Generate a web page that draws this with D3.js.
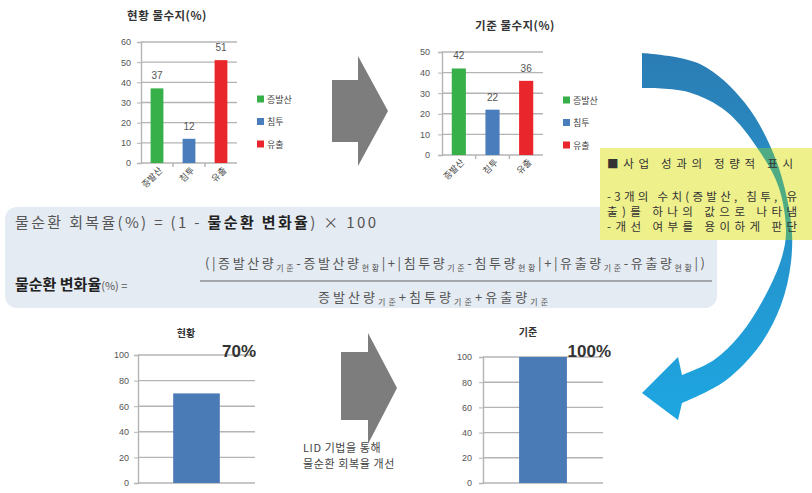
<!DOCTYPE html>
<html><head><meta charset="utf-8">
<script src="https://cdn.jsdelivr.net/npm/d3@7"></script>
<style>
html,body{margin:0;padding:0;background:#fff;}
svg{display:block;font-family:"Noto Sans CJK KR","Noto Sans",sans-serif;}
</style></head>
<body>
<svg id="c" width="812" height="493"></svg>
<script>
// ---------- data ----------
const categories = ["증발산", "침투", "유출"];
const currentValues = [37, 12, 51];
const baseValues = [42, 22, 36];
const seriesColors = ["#38b04a", "#4a7dbc", "#e8262b"];
const ticksTop1 = [0, 10, 20, 30, 40, 50, 60];
const ticksTop2 = [0, 10, 20, 30, 40, 50];
const recoveryCats = ["현황", "기준"];
const recoveryValues = [70, 100];
const recoveryLabels = ["70%", "100%"];
const ticksBottom = [0, 20, 40, 60, 80, 100];
const titles = ["현황 물수지(%)", "기준 물수지(%)"];
const boxLines = ["■사업 성과의 정량적 표시", "-3개의 수치(증발산, 침투, 유", "출)를 하나의 값으로 나타냄", "-개선 여부를 용이하게 판단"];
const arrowNote = ["LID 기법을 통해", "물순환 회복율 개선"];

const svg = d3.select("#c");
svg.append("rect").attr("width", 812).attr("height", 493).attr("fill", "#fff");
const defs = svg.append("defs");

// ---------- formula box (background) ----------
svg.append("rect").attr("x", 5).attr("y", 207).attr("width", 712).attr("height", 101)
  .attr("rx", 12).attr("fill", "#e5ebf2");

// ---------- bar chart helper ----------
function barChart(o) {
  const g = svg.append("g");
  const y = d3.scaleLinear().domain(o.domain).range([o.y0, o.y1]);
  const x = d3.scaleBand().domain(o.cats).range([o.x0, o.x1]).paddingInner(o.pad).paddingOuter(o.padOuter ?? o.pad / 2);
  g.append("g").selectAll("line").data(o.ticks).join("line")
    .attr("x1", o.x0).attr("x2", o.x1)
    .attr("y1", d => y(d)).attr("y2", d => y(d))
    .attr("stroke", "#b4b4b4").attr("stroke-width", 1.4);
  const ya = g.append("g").attr("transform", `translate(${o.x0},0)`)
    .call(d3.axisLeft(y).tickValues(o.ticks).tickSize(4).tickPadding(o.tickPad));
  ya.select(".domain").attr("stroke", "#b4b4b4").attr("stroke-width", 1.4);
  ya.selectAll(".tick line").attr("stroke", "#b4b4b4");
  ya.selectAll("text").attr("font-size", 9).attr("fill", "#555").attr("font-family", "Liberation Sans, Arial, sans-serif");
  g.append("g").selectAll("rect").data(o.values).join("rect")
    .attr("x", (d, i) => x(o.cats[i])).attr("width", x.bandwidth())
    .attr("y", d => y(d)).attr("height", d => y(0) - y(d))
    .attr("fill", (d, i) => o.colors[i % o.colors.length]);
  if (o.catTicks) {
    const step = x.step();
    const bounds = o.cats.slice(1).map((c) => x(c) - (step - x.bandwidth()) / 2);
    g.append("g").selectAll("line").data(bounds).join("line")
      .attr("x1", d => d).attr("x2", d => d).attr("y1", y(0)).attr("y2", y(0) + 4)
      .attr("stroke", "#b4b4b4").attr("stroke-width", 1.4);
  }
  if (o.showValues) {
    g.append("g").selectAll("text").data(o.values).join("text")
      .attr("x", (d, i) => x(o.cats[i]) + x.bandwidth() / 2).attr("y", d => y(d) - 9)
      .attr("text-anchor", "middle").attr("font-size", 10).attr("fill", "#555")
      .attr("font-family", "Liberation Sans, Arial, sans-serif")
      .text(d => d);
  }
  if (o.rotLabels) {
    g.append("g").selectAll("text").data(o.cats).join("text")
      .attr("transform", c => `translate(${x(c) + x.bandwidth() / 2 + 6},${y(0) + 8}) rotate(-45)`)
      .attr("text-anchor", "end").attr("font-size", 9).attr("fill", "#444").text(c => c);
  }
  if (o.legend) {
    const lg = g.append("g").selectAll("g").data(o.cats).join("g")
      .attr("transform", (c, i) => `translate(${o.legend[0]},${o.legend[1] + i * 22.5})`);
    lg.append("rect").attr("x", 0).attr("y", -3.5).attr("width", 7).attr("height", 7)
      .attr("fill", (c, i) => o.colors[i]);
    lg.append("text").attr("x", 10).attr("y", 3.5).attr("font-size", 9).attr("fill", "#444").text(c => c);
  }
  return { x, y };
}

// top charts
svg.append("text").attr("x", 167).attr("y", 20).attr("text-anchor", "middle")
  .attr("font-size", 11.5).attr("font-weight", "bold").attr("fill", "#333").attr("letter-spacing", 0.5).text(titles[0]);
barChart({ x0: 141, x1: 237, y0: 163, y1: 42, domain: [0, 60], ticks: ticksTop1, cats: categories,
  values: currentValues, colors: seriesColors, pad: 0.6, tickPad: 6, showValues: true, rotLabels: true,
  catTicks: true, legend: [257, 99] });

svg.append("text").attr("x", 515).attr("y", 30).attr("text-anchor", "middle")
  .attr("font-size", 11.5).attr("font-weight", "bold").attr("fill", "#333").attr("letter-spacing", 0.5).text(titles[1]);
barChart({ x0: 442, x1: 543, y0: 155, y1: 52, domain: [0, 50], ticks: ticksTop2, cats: categories,
  values: baseValues, colors: seriesColors, pad: 0.58, tickPad: 8, showValues: true, rotLabels: true,
  catTicks: true, legend: [563, 100] });

// bottom charts
const bottomCfg = [
  { x0: 138, x1: 255, y0: 483, y1: 355, title: [186, 337], lab: [256, 357], tickPad: 5 },
  { x0: 483, x1: 603, y0: 483, y1: 357, title: [528, 336], lab: [611, 357], tickPad: 7 }
];
recoveryCats.forEach((c, i) => {
  const b = bottomCfg[i];
  svg.append("text").attr("x", b.title[0]).attr("y", b.title[1]).attr("text-anchor", "middle")
    .attr("font-size", 10).attr("font-weight", "bold").attr("fill", "#333").text(c);
  barChart({ x0: b.x0, x1: b.x1, y0: b.y0, y1: b.y1, domain: [0, 100], ticks: ticksBottom, cats: [c],
    values: [recoveryValues[i]], colors: ["#4a7bb7"], pad: 0.43, padOuter: 0.43, tickPad: b.tickPad });
  svg.append("text").attr("x", b.lab[0]).attr("y", b.lab[1]).attr("text-anchor", "end")
    .attr("font-size", 17).attr("font-weight", "bold").attr("fill", "#333")
    .attr("font-family", "Liberation Sans, Arial, sans-serif").text(recoveryLabels[i]);
});

// ---------- gray block arrows ----------
function blockArrow(bx0, bx1, by0, by1, hy0, hy1, tx, ty) {
  svg.append("path").attr("fill", "#7d7d7d")
    .attr("d", `M${bx0},${by0}L${bx1},${by0}L${bx1},${hy0}L${tx},${ty}L${bx1},${hy1}L${bx1},${by1}L${bx0},${by1}Z`);
}
blockArrow(332, 358, 80, 142, 56, 166, 388, 111);
blockArrow(341, 368, 352, 420, 333, 444, 397, 388);

arrowNote.forEach((t, i) => {
  svg.append("text").attr("x", 303).attr("y", 452 + i * 15.5).attr("font-size", 11)
    .attr("fill", "#444").attr("letter-spacing", 0.6).text(t);
});

// ---------- formula text ----------
const f1 = svg.append("text").attr("x", 15).attr("y", 228).attr("font-size", 15).attr("fill", "#555")
  .attr("textLength", 361).attr("lengthAdjust", "spacing");
f1.append("tspan").text("물순환 회복율(%) = (1 - ");
f1.append("tspan").attr("font-weight", "bold").attr("fill", "#222").text("물순환 변화율");
f1.append("tspan").text(") × 100");

const f2 = svg.append("text").attr("x", 15).attr("y", 290).attr("fill", "#222");
f2.append("tspan").attr("font-size", 15).attr("font-weight", "bold").text("물순환 변화율");
f2.append("tspan").attr("font-size", 11).attr("fill", "#555").text("(%) =");

function formula(x, y, len, parts) {
  const t = svg.append("text").attr("x", x).attr("y", y).attr("font-size", 13).attr("fill", "#555")
    .attr("textLength", len).attr("lengthAdjust", "spacing");
  let pending = 0;
  parts.forEach(p => {
    if (Array.isArray(p)) {
      t.append("tspan").attr("dy", pending).text(p[0]);
      t.append("tspan").attr("font-size", 8).attr("dy", 3).text(p[1]);
      pending = -3;
    } else {
      t.append("tspan").attr("dy", pending).text(p);
      pending = 0;
    }
  });
}
formula(205, 268, 500, ["(|", ["증발산량", "기준"], "-", ["증발산량", "현황"], "|+|", ["침투량", "기준"], "-",
  ["침투량", "현황"], "|+|", ["유출량", "기준"], "-", ["유출량", "현황"], "|)"]);
svg.append("line").attr("x1", 200).attr("x2", 712).attr("y1", 281).attr("y2", 281)
  .attr("stroke", "#a3a7ab").attr("stroke-width", 2);
formula(318, 302, 230, [["증발산량", "기준"], "+", ["침투량", "기준"], "+", ["유출량", "기준"]]);

// ---------- curved arrow ----------
const grad = defs.append("linearGradient").attr("id", "cg").attr("gradientUnits", "userSpaceOnUse")
  .attr("x1", 0).attr("y1", 53).attr("x2", 0).attr("y2", 400);
grad.append("stop").attr("offset", 0).attr("stop-color", "#2a7db4");
grad.append("stop").attr("offset", 0.45).attr("stop-color", "#2790c8");
grad.append("stop").attr("offset", 1).attr("stop-color", "#1ea4df");

const outer = [[642, 53], [700, 64], [745, 103], [776, 160], [791, 222], [791, 262], [781, 305], [760, 345], [725, 381], [682, 403]];
const inner = [[682, 375], [714, 360], [740, 335], [763, 300], [781, 260], [786, 232], [779, 188], [760, 152], [727, 112], [688, 92], [642, 88]];
const lineGen = d3.line().curve(d3.curveCatmullRom.alpha(0.5));
const dOuter = lineGen(outer);
const dInner = lineGen(inner);
const arrowD = dOuter + `L678,420L642,393L678,357` + dInner.replace(/^M/, "L") + "Z";
svg.append("path").attr("d", arrowD).attr("fill", "url(#cg)");

// ---------- yellow note box ----------
svg.append("rect").attr("x", 600).attr("y", 148).attr("width", 212).attr("height", 92).attr("fill", "#eef08c");
defs.append("clipPath").attr("id", "bx").append("rect")
  .attr("x", 600).attr("y", 148).attr("width", 212).attr("height", 92);
svg.append("path").attr("d", arrowD).attr("fill", "#4fab84").attr("clip-path", "url(#bx)");

const boxY = [168, 201, 216, 231];
boxLines.forEach((t, i) => {
  svg.append("text").attr("x", 607).attr("y", boxY[i]).attr("font-size", 11.5).attr("fill", "#333")
    .attr("textLength", i === 0 ? 186 : 190).attr("lengthAdjust", "spacing").text(t);
});
</script>
</body></html>
